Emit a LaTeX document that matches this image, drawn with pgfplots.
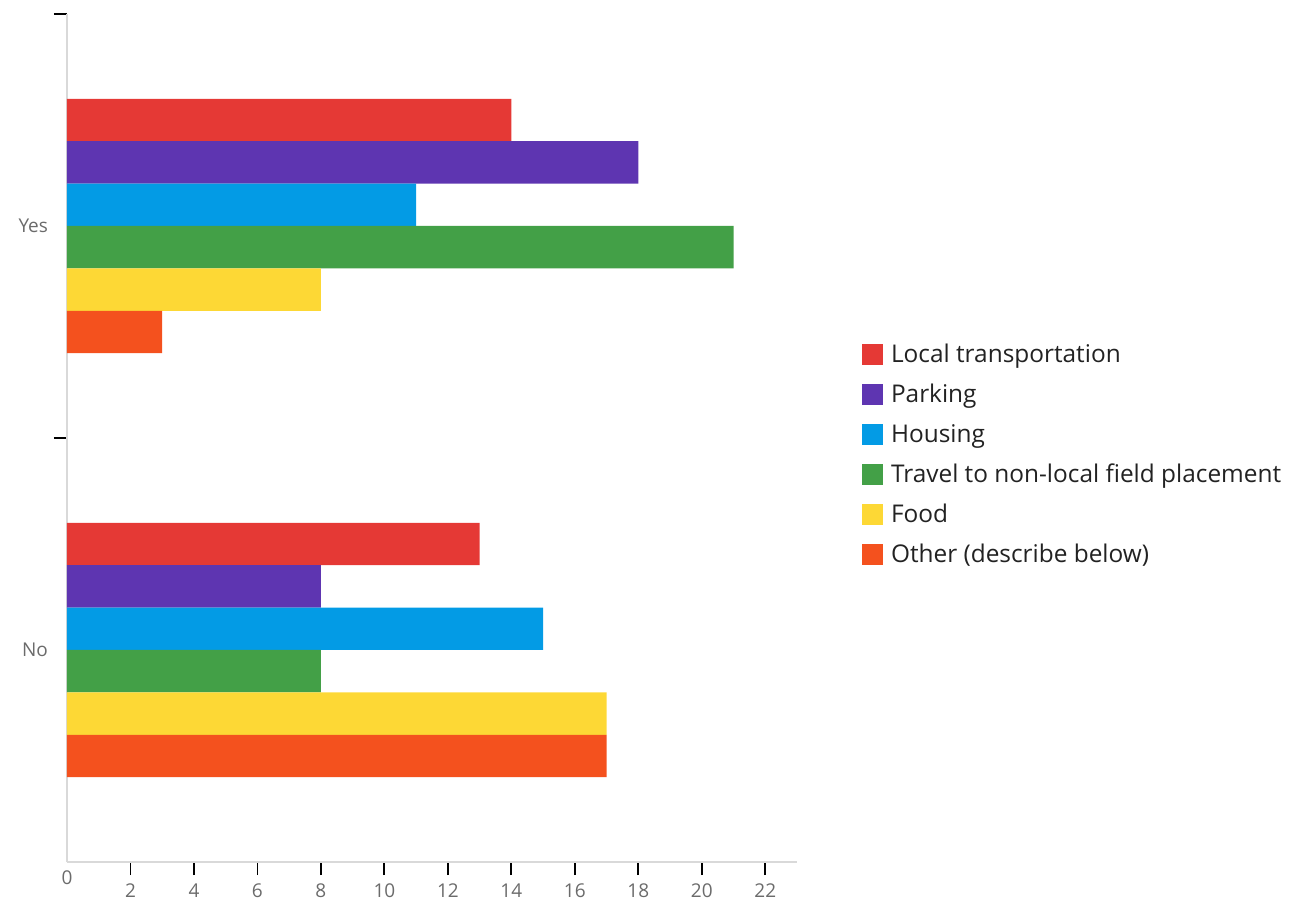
\documentclass[border=0pt]{standalone}
\usepackage{fontspec}
\setmainfont{Open Sans}
\usepackage{pgfplots}
\pgfplotsset{compat=1.18}

\definecolor{cLocal}{HTML}{E53935}
\definecolor{cParking}{HTML}{5E35B1}
\definecolor{cHousing}{HTML}{039BE5}
\definecolor{cTravel}{HTML}{43A047}
\definecolor{cFood}{HTML}{FDD835}
\definecolor{cOther}{HTML}{F4511E}
\definecolor{axisgray}{HTML}{D9D9D9}
\definecolor{ticklab}{HTML}{6B6B6B}
\definecolor{legtext}{HTML}{222222}

\begin{document}
\begin{tikzpicture}[x=1pt,y=1pt]
\useasboundingbox (-33.5,-19.5) rectangle (615.5,431);
\begin{axis}[
  at={(0,0)}, anchor=south west,
  scale only axis, width=365pt, height=424pt,
  xmin=0, xmax=23, ymin=-0.5, ymax=1.5,
  xbar, bar width=0.1,
  axis x line*=bottom, axis y line*=left,
  axis line style={draw=axisgray, line width=0.8pt},
  tick align=outside,
  major tick length=6.5pt,
  tick style={black, line width=0.9pt},
  xtick={2,4,...,22},
  extra x ticks={0},
  extra x tick style={major tick length=0pt},
  ytick={0.5,1.5}, yticklabels={},
  extra y ticks={0,1}, extra y tick labels={No,Yes},
  extra y tick style={major tick length=0pt},
  /pgf/number format/assume math mode=true,
  ticklabel style={font=\fontsize{9.5}{11}\selectfont, text=ticklab},
  xticklabel style={yshift=-1pt},
  yticklabel style={xshift=-6pt},
  legend style={
    at={(1.088,0.480)}, anchor=west, draw=none, fill=none,
    inner sep=0pt, row sep=0pt,
    font=\fontsize{12.2}{14}\selectfont, text=legtext,
    nodes={inner sep=0pt, minimum height=20pt},
    /tikz/every odd column/.style={column sep=4.2pt},
  },
  legend cell align=left,
  legend image code/.code={\fill[#1] (0pt,-5.25pt) rectangle (10.5pt,5.25pt);},
  every axis plot/.append style={draw=none},
]
% No at y=0, Yes at y=1
\addplot[fill=cLocal,   bar shift=0.25]  coordinates {(13,0) (14,1)};
\addplot[fill=cParking, bar shift=0.15]  coordinates {(8,0)  (18,1)};
\addplot[fill=cHousing, bar shift=0.05]  coordinates {(15,0) (11,1)};
\addplot[fill=cTravel,  bar shift=-0.05] coordinates {(8,0)  (21,1)};
\addplot[fill=cFood,    bar shift=-0.15] coordinates {(17,0) (8,1)};
\addplot[fill=cOther,   bar shift=-0.25] coordinates {(17,0) (3,1)};
\legend{Local transportation, Parking, Housing, Travel to non-local field placement, Food, Other (describe below)}
\end{axis}
\end{tikzpicture}
\end{document}
